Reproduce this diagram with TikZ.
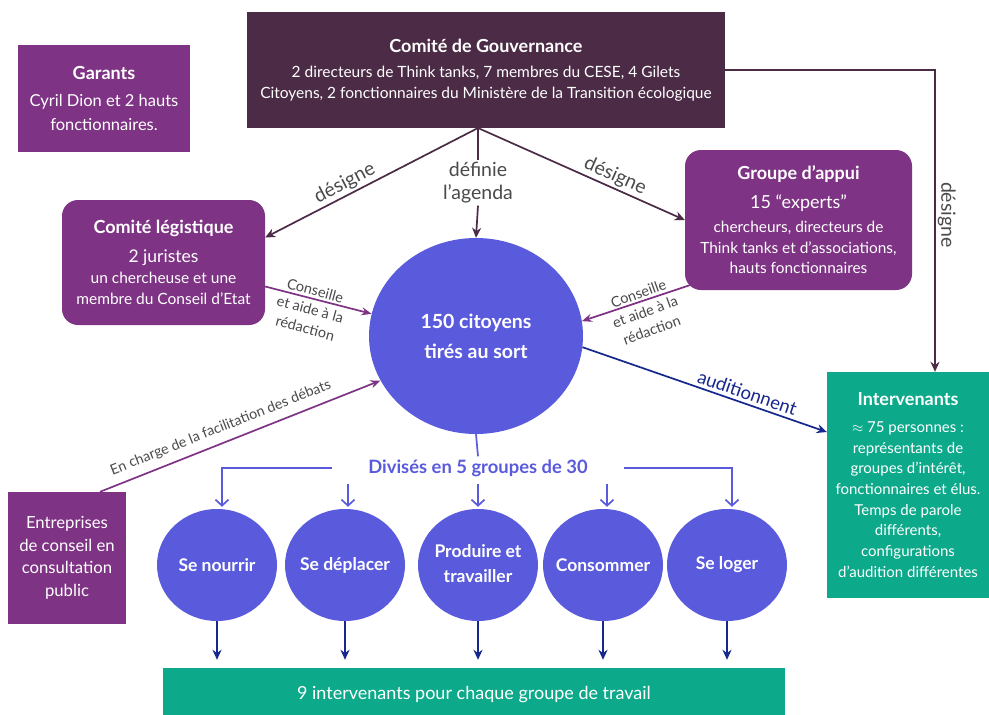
\documentclass[tikz,border=0pt]{standalone}
\usepackage{fontspec}
\setmainfont{Lato}
\usetikzlibrary{arrows.meta,shapes.geometric}
\definecolor{govc}{HTML}{4B2B45}
\definecolor{purp}{HTML}{7E3384}
\definecolor{cblue}{HTML}{5A5BDC}
\definecolor{cgreen}{HTML}{0CA98A}
\definecolor{navy}{HTML}{16278E}
\definecolor{lblgray}{HTML}{4A4A4A}
\newcommand\fTitle{\fontsize{18}{21}\selectfont\bfseries}
\newcommand\fBig{\fontsize{17.5}{21}\selectfont}
\begin{document}
\begin{tikzpicture}[x=1pt,y=-1pt,
 box/.style={align=center,text=white,inner sep=0pt},
 darr/.style={draw=govc,line width=1.7pt,-{Stealth[length=10pt,width=9pt]}},
 parr/.style={draw=purp,line width=1.7pt,-{Stealth[length=10pt,width=8pt]}},
 narr/.style={draw=navy,line width=1.7pt,-{Stealth[length=10pt,width=9pt]}},
 barr/.style={draw=cblue,line width=1.7pt,-{Straight Barb[length=6pt,width=13pt]}},
 lbl/.style={text=lblgray,font=\fontsize{19.5}{23}\selectfont,inner sep=2pt},
 slbl/.style={text=lblgray,font=\fontsize{14.5}{19.5}\selectfont,align=center,inner sep=0pt},
 grp/.style={ellipse,fill=cblue,minimum width=120pt,minimum height=112pt,inner sep=0pt,text=white,font=\fontsize{17.5}{25}\selectfont\bfseries},
]
\useasboundingbox (0,0) rectangle (989,715);
\fill[white] (0,0) rectangle (989,715);

\node[box,fill=govc,minimum width=478pt,minimum height=116pt,font=\fontsize{15.5}{21}\selectfont] (gov) at (486,70)
 {{\fTitle Comité de Gouvernance}\\[4pt]2 directeurs de Think tanks, 7 membres du CESE, 4 Gilets\\Citoyens, 2 fonctionnaires du Ministère de la Transition écologique};

\node[box,fill=purp,minimum width=172pt,minimum height=107pt,font=\fontsize{16.5}{24}\selectfont] (gar) at (104,98.5)
 {{\fTitle Garants}\\[3pt]Cyril Dion et 2 hauts\\fonctionnaires.};

\node[box,fill=purp,rounded corners=16pt,minimum width=203pt,minimum height=125pt,font=\fontsize{15.5}{21}\selectfont] (leg) at (163.5,262.5)
 {{\fTitle Comité légistique}\\[8pt]{\fBig 2 juristes}\\un chercheuse et une\\membre du Conseil d’Etat};

\node[box,fill=purp,rounded corners=16pt,minimum width=227pt,minimum height=140pt,font=\fontsize{15.4}{20.5}\selectfont] (app) at (798.5,220)
 {{\fTitle Groupe d’appui}\\[8pt]{\fontsize{18}{21}\selectfont 15 “experts”}\\[4pt]chercheurs, directeurs de\\Think tanks et d’associations,\\hauts fonctionnaires};

\node[ellipse,fill=cblue,minimum width=214pt,minimum height=196pt,inner sep=0pt,text=white,align=center,font=\fontsize{19.5}{30}\selectfont\bfseries] (cit) at (476,336)
 {150 citoyens\\tirés au sort};

\node[box,fill=cgreen,minimum width=162pt,minimum height=226pt,font=\fontsize{15}{20.7}\selectfont] (int) at (908,485)
 {{\fTitle Intervenants}\\[6pt]$\approx$ 75 personnes :\\représentants de\\groupes d’intérêt,\\fonctionnaires et élus.\\Temps de parole\\différents,\\configurations\\d’audition différentes};

\node[box,fill=purp,minimum width=118pt,minimum height=132pt,font=\fontsize{16.7}{22.5}\selectfont] (ent) at (67,558)
 {Entreprises\\de conseil en\\consultation\\public};

\node[text=cblue,font=\fontsize{18.4}{20}\selectfont\bfseries,inner sep=3pt] (div) at (478,468) {Divisés en 5 groupes de 30};

\node[grp] (g1) at (217,565) {\makebox[0pt]{Se nourrir}};
\node[grp] (g2) at (345,565) {\makebox[0pt]{Se déplacer}};
\node[grp] (g3) at (478,565) {\makebox[0pt]{\begin{tabular}{@{}c@{}}Produire et\\travailler\end{tabular}}};
\node[grp] (g4) at (603,565) {\makebox[0pt]{Consommer}};
\node[grp] (g5) at (727,565) {\makebox[0pt]{Se loger}};

\node[box,fill=cgreen,minimum width=622pt,minimum height=54pt,font=\fontsize{18}{20}\selectfont] (bot) at (474,695)
 {9 intervenants pour chaque groupe de travail};

\coordinate (gb) at (478,128);
\node[lbl,align=center] (agenda) at (478,183) {définie\\l’agenda};

\draw[darr] (gb) -- ([yshift=25pt]leg.east) node[lbl,sloped,above,pos=0.6]{désigne};
\draw[darr] (gb) -- (app.west) node[lbl,sloped,above,pos=0.64]{désigne};
\draw[darr,-] (gb) -- (agenda.north);
\draw[darr] (agenda.south) -- (cit.north);
\draw[darr] (gov.east) -| ([xshift=27pt]int.north) node[lbl,pos=0.74,anchor=south,rotate=-90]{désigne};

\draw[parr] ([yshift=-24pt]leg.east) -- (cit.168)
  node[slbl,rotate=-15,pos=0.45,yshift=-11pt]{Conseille\\et aide à la\\rédaction};
\draw[parr] ([xshift=5pt,yshift=5pt]app.south west) -- (cit.8)
  node[slbl,rotate=20,pos=0.45,yshift=-11pt]{Conseille\\et aide à la\\rédaction};
\draw[parr] ([xshift=33pt]ent.north) -- (cit.205)
  node[sloped,above=4pt,pos=0.45,text=lblgray,font=\fontsize{14.3}{16}\selectfont]{En charge de la facilitation des débats};
\draw[narr] (cit.-6) -- ([yshift=53pt]int.west)
  node[sloped,above,pos=0.66,text=navy,font=\fontsize{18.5}{20}\selectfont]{auditionnent};

\draw[barr,-] (cit.south) -- (div.north);
\draw[barr,shorten >=2pt] ([xshift=-33pt]div.west) -| ([xshift=5pt]g1.north);
\draw[barr,shorten >=2pt] ([xshift=33pt]div.east) -| ([xshift=5pt]g5.north);
\draw[barr,shorten >=2pt] ([xshift=3pt,yshift=25pt]g2.north) -- ([xshift=3pt]g2.north);
\draw[barr,shorten >=2pt] ([yshift=25pt]g3.north) -- (g3.north);
\draw[barr,shorten >=2pt] ([xshift=4pt,yshift=25pt]g4.north) -- ([xshift=4pt]g4.north);

\foreach \g in {g1,g2,g3,g4,g5}
  \draw[narr,shorten >=8pt] (\g.south) -- (\g.south |- bot.north);
\end{tikzpicture}
\end{document}
